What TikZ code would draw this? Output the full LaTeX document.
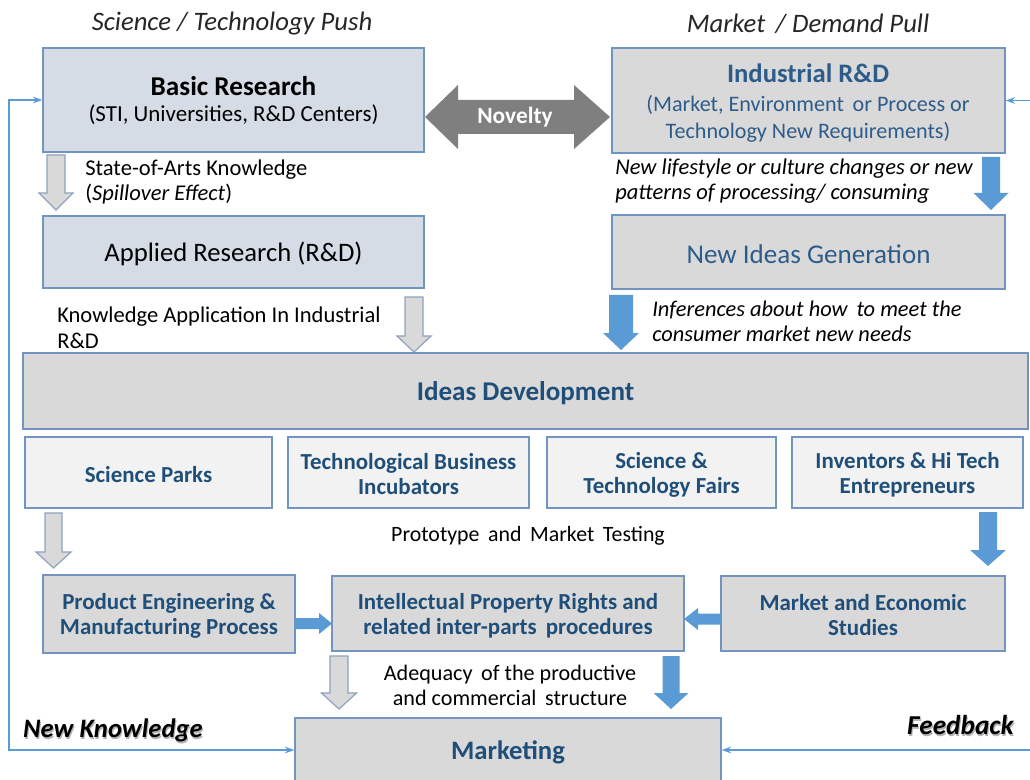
\documentclass[tikz,border=0pt]{standalone}
\usepackage{fontspec}
\setmainfont{Carlito}
\usetikzlibrary{arrows.meta}
\definecolor{bfill}{HTML}{D6DCE5}
\definecolor{gfill}{HTML}{D9D9D9}
\definecolor{lfill}{HTML}{F2F2F2}
\definecolor{bord}{HTML}{7394C0}
\definecolor{ablue}{HTML}{5B9BD5}
\definecolor{tblue}{HTML}{1F4E79}
\definecolor{tblue2}{HTML}{2E5C8A}
\definecolor{agray}{HTML}{7F7F7F}
\definecolor{gbord}{HTML}{8EA2BF}
\definecolor{tdark}{HTML}{262626}
% name, box style, text style, x1, y1, x2, y2, text ; text shifted down by 2px
\newcommand\bx[8]{\node[#2, minimum width={(#6-#4)*0.75pt}, minimum height={(#7-#5)*0.75pt}] (#1) at ({(#4+#6)/2},{(#5+#7)/2}) {};
  \node[inner sep=0pt, align=center, #3] (#1t) at ({(#4+#6)/2},{(#5+#7)/2+2}) {#8};}
\newcommand\darr[7]{\draw[#1] ({#2-(#5)},#3) -- ({#2+#5},#3) -- ({#2+#5},{#4-(#7)}) -- ({#2+#6},{#4-(#7)}) -- (#2,#4) -- ({#2-(#6)},{#4-(#7)}) -- ({#2-(#5)},{#4-(#7)}) -- cycle;}
\newcommand\harr[7]{\draw[#1] (#3,{#2-(#5)}) -- ({#4-(#7)},{#2-(#5)}) -- ({#4-(#7)},{#2-(#6)}) -- (#4,#2) -- ({#4-(#7)},{#2+#6}) -- ({#4-(#7)},{#2+#5}) -- (#3,{#2+#5}) -- cycle;}
\newcommand\fsz[2]{\fontsize{#1}{#2}\selectfont}
\begin{document}
\begin{tikzpicture}[x=0.75pt,y=-0.75pt,
  bluebox/.style={draw=bord, fill=bfill, line width=1.1pt, inner sep=0pt},
  graybox/.style={draw=bord, fill=gfill, line width=1.1pt, inner sep=0pt},
  lightbox/.style={draw=bord, fill=lfill, line width=1.1pt, inner sep=0pt},
  garrow/.style={draw=gbord, fill=gfill, line width=0.9pt, line join=miter},
  barrow/.style={fill=ablue, draw=none},
  fb/.style={draw=ablue, line width=0.8pt, {Stealth[length=7pt,width=5pt]}-{Stealth[length=7pt,width=5pt]}},
  lbl/.style={inner sep=0pt, text=black, align=left},
  smallbold/.style={text=tblue, font=\fsz{17.2}{18.75}\bfseries},
]
\useasboundingbox (0,0) rectangle (1030,780);
\clip (0,0) rectangle (1030,780);
\fill[white] (0,0) rectangle (1030,780);

% titles
\node[inner sep=0pt, text=tdark, font=\fsz{20}{24}\itshape] (t1) at (232,23.5) {Science / Technology Push};
\node[inner sep=0pt, text=tdark, font=\fsz{20}{24}\itshape] (t2) at (808,23.5) {Market \,/ Demand Pull};

% top boxes
\bx{br}{bluebox}{}{43}{48}{424}{152}{}
\node[inner sep=0pt, font=\fsz{20.4}{24}\bfseries] (brt1) at (233.5,86.5) {Basic Research};
\node[inner sep=0pt, font=\fsz{17.2}{20}] (brt2) at (233.5,114.5) {(STI, Universities, R\&D Centers)};
\bx{ir}{graybox}{}{612}{48}{1005}{153}{}
\node[inner sep=0pt, text=tblue2, font=\fsz{20}{24}\bfseries] (irt1) at (808,73.5) {Industrial R\&D};
\node[inner sep=0pt, text=tblue2, font=\fsz{16.6}{20}, align=center] (irt2) at (808,118.5) {(Market, Environment \,or Process or\\Technology New Requirements)};

% novelty double arrow
\fill[agray] (425,117) -- (458,85) -- (458,100) -- (574,100) -- (574,85) -- (610,117) -- (574,149) -- (574,134) -- (458,134) -- (458,149) -- cycle;
\node[inner sep=0pt, text=white, font=\fsz{17.5}{20}\bfseries] (nov) at (515,117.5) {Novelty};

% second row
\darr{garrow}{56}{155}{210}{9}{17}{17}
\node[lbl, anchor=west, font=\fsz{16.9}{18.75}] (sak) at (85,181.5) {State-of-Arts Knowledge\\(\textit{Spillover Effect})};
\darr{barrow}{991}{157}{210}{9}{17.5}{17}
\node[lbl, anchor=west, font=\fsz{16.9}{18.75}\itshape] (nlc) at (615,181.5) {New lifestyle or culture changes or new\\patterns of processing/ consuming};

\bx{ar}{bluebox}{font=\fsz{20}{24}}{43}{216}{424}{288}{Applied Research (R\&D)}
\bx{ng}{graybox}{text=tblue2, font=\fsz{20.3}{24}}{612}{215}{1005}{289}{New Ideas Generation}

% third row
\darr{garrow}{414}{297}{352}{9}{17}{16}
\node[lbl, anchor=west, font=\fsz{16.9}{19.5}] (kai) at (57,328) {Knowledge Application In Industrial\\R\&D};
\darr{barrow}{621}{295}{350}{12}{18}{17}
\node[lbl, anchor=west, font=\fsz{16.8}{18.75}\itshape] (inf) at (652,321.5) {Inferences about how \,to meet the\\consumer market new needs};

\bx{id}{graybox}{text=tblue, font=\fsz{20.3}{24}\bfseries}{23}{353}{1028}{429}{Ideas Development}

% four boxes
\bx{sp}{lightbox}{smallbold}{25}{437}{272}{508}{Science Parks}
\bx{tb}{lightbox}{smallbold}{288}{437}{529}{508}{Technological Business\\Incubators}
\bx{sf}{lightbox}{smallbold}{547}{437}{776}{508}{Science \&\\Technology Fairs}
\bx{iv}{lightbox}{smallbold}{792}{437}{1023}{508}{Inventors \& Hi Tech\\Entrepreneurs}

\darr{garrow}{53.5}{513}{568}{8.5}{17.5}{16}
\node[inner sep=0pt, font=\fsz{16.4}{18.75}] (pmt) at (528,536) {Prototype \,and \,Market \,Testing};
\darr{barrow}{988}{512}{566}{9}{18}{16}

% fifth row
\bx{pe}{graybox}{smallbold}{43}{575}{295}{653}{Product Engineering \&\\Manufacturing Process}
\bx{ip}{graybox}{smallbold}{332}{576}{684}{651}{Intellectual Property Rights and\\related inter-parts \,procedures}
\bx{me}{graybox}{smallbold}{721}{576}{1005}{651}{Market and Economic\\Studies}
\harr{barrow}{623.5}{295}{332}{5.5}{10.5}{13}
\harr{barrow}{619}{721}{684}{5.5}{11}{-14}

\darr{garrow}{339}{656}{709}{9}{17.5}{16}
\node[inner sep=0pt, font=\fsz{16.6}{18.75}, align=center] (adq) at (510,685) {Adequacy \,of the productive\\and commercial \,structure};
\darr{barrow}{671}{656}{709}{8.5}{17.5}{16}

\bx{mk}{graybox}{text=tblue, font=\fsz{20}{24}\bfseries}{295}{718}{721}{782}{Marketing}

% feedback lines
\coordinate (L2) at (9,750);
\coordinate (R2) at (1040,750);
\draw[fb] (br.west) -| (L2) -- (mk.west);
\draw[fb] (ir.east) -| (R2) -- (mk.east);
\node[inner sep=0pt, text=gray!60, font=\fsz{20}{24}\bfseries\itshape] (nks) at (114,732) {New Knowledge};
\node[inner sep=0pt, text=black, font=\fsz{20}{24}\bfseries\itshape] (nk) at (113,730.5) {New Knowledge};
\node[inner sep=0pt, text=gray!60, font=\fsz{20.5}{24}\bfseries\itshape] (fbs) at (961.5,727) {Feedback};
\node[inner sep=0pt, text=black, font=\fsz{20.5}{24}\bfseries\itshape] (fbk) at (960.5,725.5) {Feedback};
\end{tikzpicture}
\end{document}
